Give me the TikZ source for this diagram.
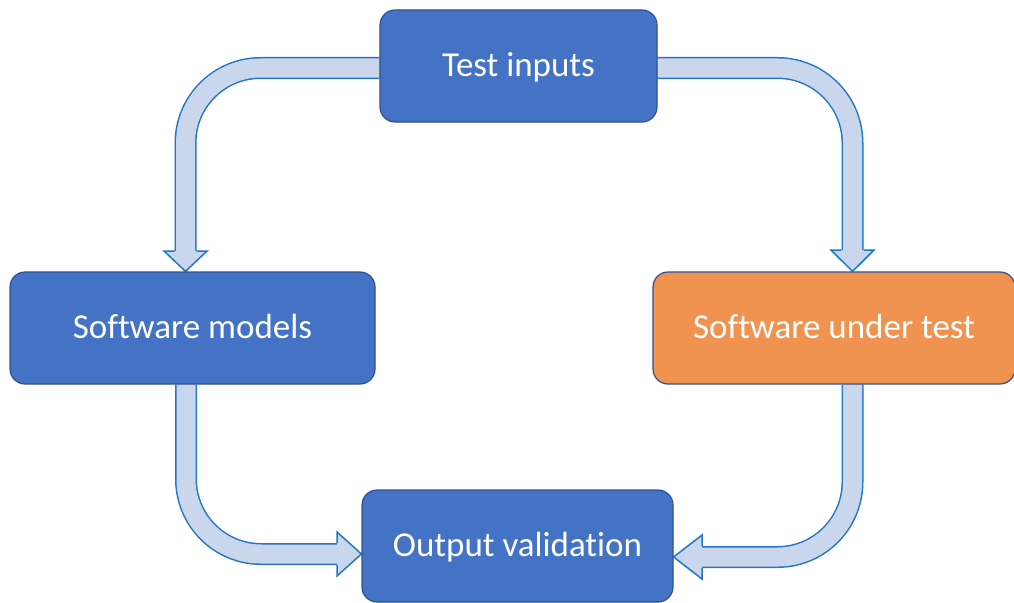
\documentclass[tikz,border=0pt]{standalone}
\usepackage{fontspec}
\setmainfont[Ligatures={NoCommon}]{Carlito}
\usetikzlibrary{calc}
\pgfdeclarelayer{bg}
\pgfsetlayers{bg,main}
\definecolor{boxblue}{HTML}{4472C4}
\definecolor{boxline}{HTML}{2F528F}
\definecolor{boxorange}{HTML}{F09350}
\definecolor{arrowfill}{HTML}{CAD6EC}
\definecolor{arrowline}{HTML}{2277C4}
\tikzset{
  stepbox/.style={rounded corners=15pt, fill=boxblue, draw=boxline, line width=1.2pt,
    text=white, font=\fontsize{35}{40}\selectfont, minimum height=112pt, inner sep=0pt,
    text height=25pt, text depth=4pt},
  shaft/.style={draw=arrowline, line width=1.5pt, double=arrowfill, double distance=19pt,
    rounded corners=75pt},
  headfill/.style={fill=arrowfill},
  headline/.style={draw=arrowline, line width=1.5pt, line join=miter},
}
\begin{document}
\begin{tikzpicture}[x=1pt,y=-1pt]
\useasboundingbox (0,0) rectangle (1014,602);
\node[stepbox, minimum width=277pt] (ti) at (518.5,66) {Test inputs};
\node[stepbox, minimum width=365pt] (sm) at (192.5,328) {Software models};
\node[stepbox, minimum width=362pt, fill=boxorange] (sut) at (834,328) {Software under test};
\node[stepbox, minimum width=311pt] (ov) at (517.5,546) {Output validation};
% head bases
\coordinate (h1) at (185.5,251);
\coordinate (h2) at (852.5,250);
\coordinate (h3) at (337,554);
\coordinate (h4) at (702,557);
\begin{pgfonlayer}{bg}
% arrow 1: Test inputs -> Software models
\draw[shaft] ([yshift=-2pt]ti.west) -| (h1);
\fill[headfill] ($(h1)+(-21.5,0)$) -- (h1 |- sm.north) -- ($(h1)+(21.5,0)$) -- cycle;
\draw[headline] ($(h1)+(-11,0)$) -- ($(h1)+(-21.5,0)$) -- (h1 |- sm.north) -- ($(h1)+(21.5,0)$) -- ($(h1)+(11,0)$);
% arrow 2: Test inputs -> Software under test
\draw[shaft] ([yshift=-2pt]ti.east) -| (h2);
\fill[headfill] ($(h2)+(-21.5,0)$) -- (h2 |- sut.north) -- ($(h2)+(21.5,0)$) -- cycle;
\draw[headline] ($(h2)+(-11,0)$) -- ($(h2)+(-21.5,0)$) -- (h2 |- sut.north) -- ($(h2)+(21.5,0)$) -- ($(h2)+(11,0)$);
% arrow 3: Software models -> Output validation
\draw[shaft] (sm.south -| 186,0) |- (h3);
\fill[headfill] ($(h3)+(0,-22)$) -- (h3 -| ov.west) -- ($(h3)+(0,22)$) -- cycle;
\draw[headline] ($(h3)+(0,-11)$) -- ($(h3)+(0,-22)$) -- (h3 -| ov.west) -- ($(h3)+(0,22)$) -- ($(h3)+(0,11)$);
% arrow 4: Software under test -> Output validation
\draw[shaft] (sut.south -| h2) |- (h4);
\fill[headfill] ($(h4)+(0,-22)$) -- (h4 -| ov.east) -- ($(h4)+(0,22)$) -- cycle;
\draw[headline] ($(h4)+(0,-11)$) -- ($(h4)+(0,-22)$) -- (h4 -| ov.east) -- ($(h4)+(0,22)$) -- ($(h4)+(0,11)$);
\end{pgfonlayer}
\end{tikzpicture}
\end{document}
